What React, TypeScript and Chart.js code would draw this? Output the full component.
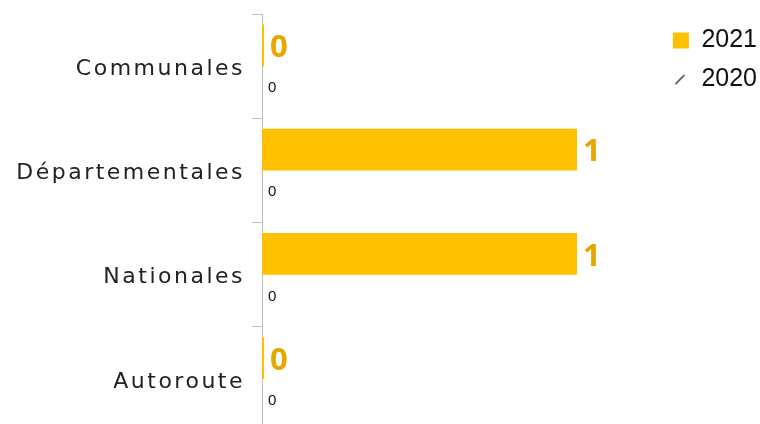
import React, { useEffect, useRef } from "react";
import { Chart, registerables } from "chart.js";

Chart.register(...registerables);

const categories = ["Communales", "Départementales", "Nationales", "Autoroute"];
const values2021 = [0, 1, 1, 0];
const values2020 = [0, 0, 0, 0];
const seriesNames = ["2021", "2020"];

const GOLD = "#FFC000";
const GOLD_TEXT = "#E8A600";
const PX_PER_UNIT = 315;

function makeSlashMarker(): HTMLCanvasElement {
  const c = document.createElement("canvas");
  c.width = 16;
  c.height = 16;
  const g = c.getContext("2d")!;
  g.strokeStyle = "#222";
  g.lineWidth = 1.2;
  g.beginPath();
  g.moveTo(2.5, 12.5);
  g.lineTo(11.5, 3.5);
  g.stroke();
  return c;
}

const layoutFix = {
  id: "layoutFix",
  afterLayout(chart: any) {
    const x = chart.scales.x;
    x.min = 0;
    x.max = (x.right - x.left) / PX_PER_UNIT;
    x.configure();
    const y = chart.scales.y;
    if (!y._lsWrapped) {
      const orig = y.drawLabels;
      y.drawLabels = function (area: any) {
        const ctx = this.ctx;
        ctx.save();
        (ctx as any).letterSpacing = "2.5px";
        ctx.translate(0, 3);
        orig.call(this, area);
        ctx.restore();
      };
      y._lsWrapped = true;
    }
  },
};

const valueLabels = {
  id: "valueLabels",
  afterDatasetsDraw(chart: any) {
    const ctx = chart.ctx;
    ctx.save();
    chart.data.datasets.forEach((ds: any, di: number) => {
      const meta = chart.getDatasetMeta(di);
      meta.data.forEach((bar: any, i: number) => {
        const v = String(ds.data[i]);
        ctx.textAlign = "left";
        ctx.textBaseline = "middle";
        if (di === 0) {
          ctx.font = "bold 31px 'Open Sans'";
          ctx.fillStyle = GOLD_TEXT;
          const m = ctx.measureText(v);
          ctx.fillText(v, bar.x + 7 + m.actualBoundingBoxLeft, bar.y + 3);
        } else {
          ctx.font = "15px 'Liberation Sans'";
          ctx.fillStyle = "#111";
          ctx.fillText(v, bar.x + 6, bar.y + 1);
        }
      });
    });
    ctx.restore();
  },
};

export default function App() {
  const ref = useRef<HTMLCanvasElement | null>(null);
  useEffect(() => {
    if (!ref.current) return;
    const slash = makeSlashMarker();
    const chart = new Chart(ref.current, {
      type: "bar",
      data: {
        labels: categories,
        datasets: [
          {
            label: seriesNames[0],
            data: values2021,
            backgroundColor: GOLD,
            minBarLength: 2,
            barPercentage: 1,
            categoryPercentage: 0.8,
          },
          {
            label: seriesNames[1],
            data: values2020,
            backgroundColor: "rgba(0,0,0,0)",
            barPercentage: 1,
            categoryPercentage: 0.8,
          },
        ],
      },
      options: {
        indexAxis: "y",
        animation: false,
        responsive: false,
        maintainAspectRatio: false,
        layout: { padding: { top: 14, bottom: 9, left: 0, right: -7 } },
        scales: {
          x: {
            display: false,
            min: 0,
            max: 1.25,
          },
          y: {
            afterFit(scale: any) {
              scale.width = 262;
              scale.paddingTop = 0;
              scale.paddingBottom = 0;
            },
            grid: {
              offset: true,
              drawOnChartArea: false,
              tickLength: 10,
              color: "#bfbfbf",
            },
            border: { color: "#bfbfbf" },
            ticks: {
              padding: 7,
              color: "#222",
              font: { family: "'DejaVu Sans'", size: 22 },
            },
          },
        },
        plugins: {
          tooltip: { enabled: false },
          legend: {
            position: "right",
            align: "start",
            labels: {
              usePointStyle: true,
              boxWidth: 16,
              boxHeight: 16,
              padding: 14,
              color: "#111",
              font: { family: "'Liberation Sans'", size: 25 },
              generateLabels() {
                return [
                  {
                    text: seriesNames[0],
                    fillStyle: GOLD,
                    strokeStyle: GOLD,
                    lineWidth: 0,
                    pointStyle: "rect",
                    hidden: false,
                    datasetIndex: 0,
                    fontColor: "#111",
                  },
                  {
                    text: seriesNames[1],
                    fillStyle: "#222",
                    strokeStyle: "#222",
                    lineWidth: 0,
                    pointStyle: slash,
                    hidden: false,
                    datasetIndex: 1,
                    fontColor: "#111",
                  },
                ] as any;
              },
            },
          },
        },
      } as any,
      plugins: [layoutFix, valueLabels],
    });
    return () => chart.destroy();
  }, []);
  return (
    <div
      style={{
        position: "fixed",
        left: 0,
        top: 0,
        width: 760,
        height: 424,
        overflow: "hidden",
        background: "#fff",
      }}
    >
      <canvas ref={ref} width={760} height={440} style={{ display: "block" }} />
    </div>
  );
}
